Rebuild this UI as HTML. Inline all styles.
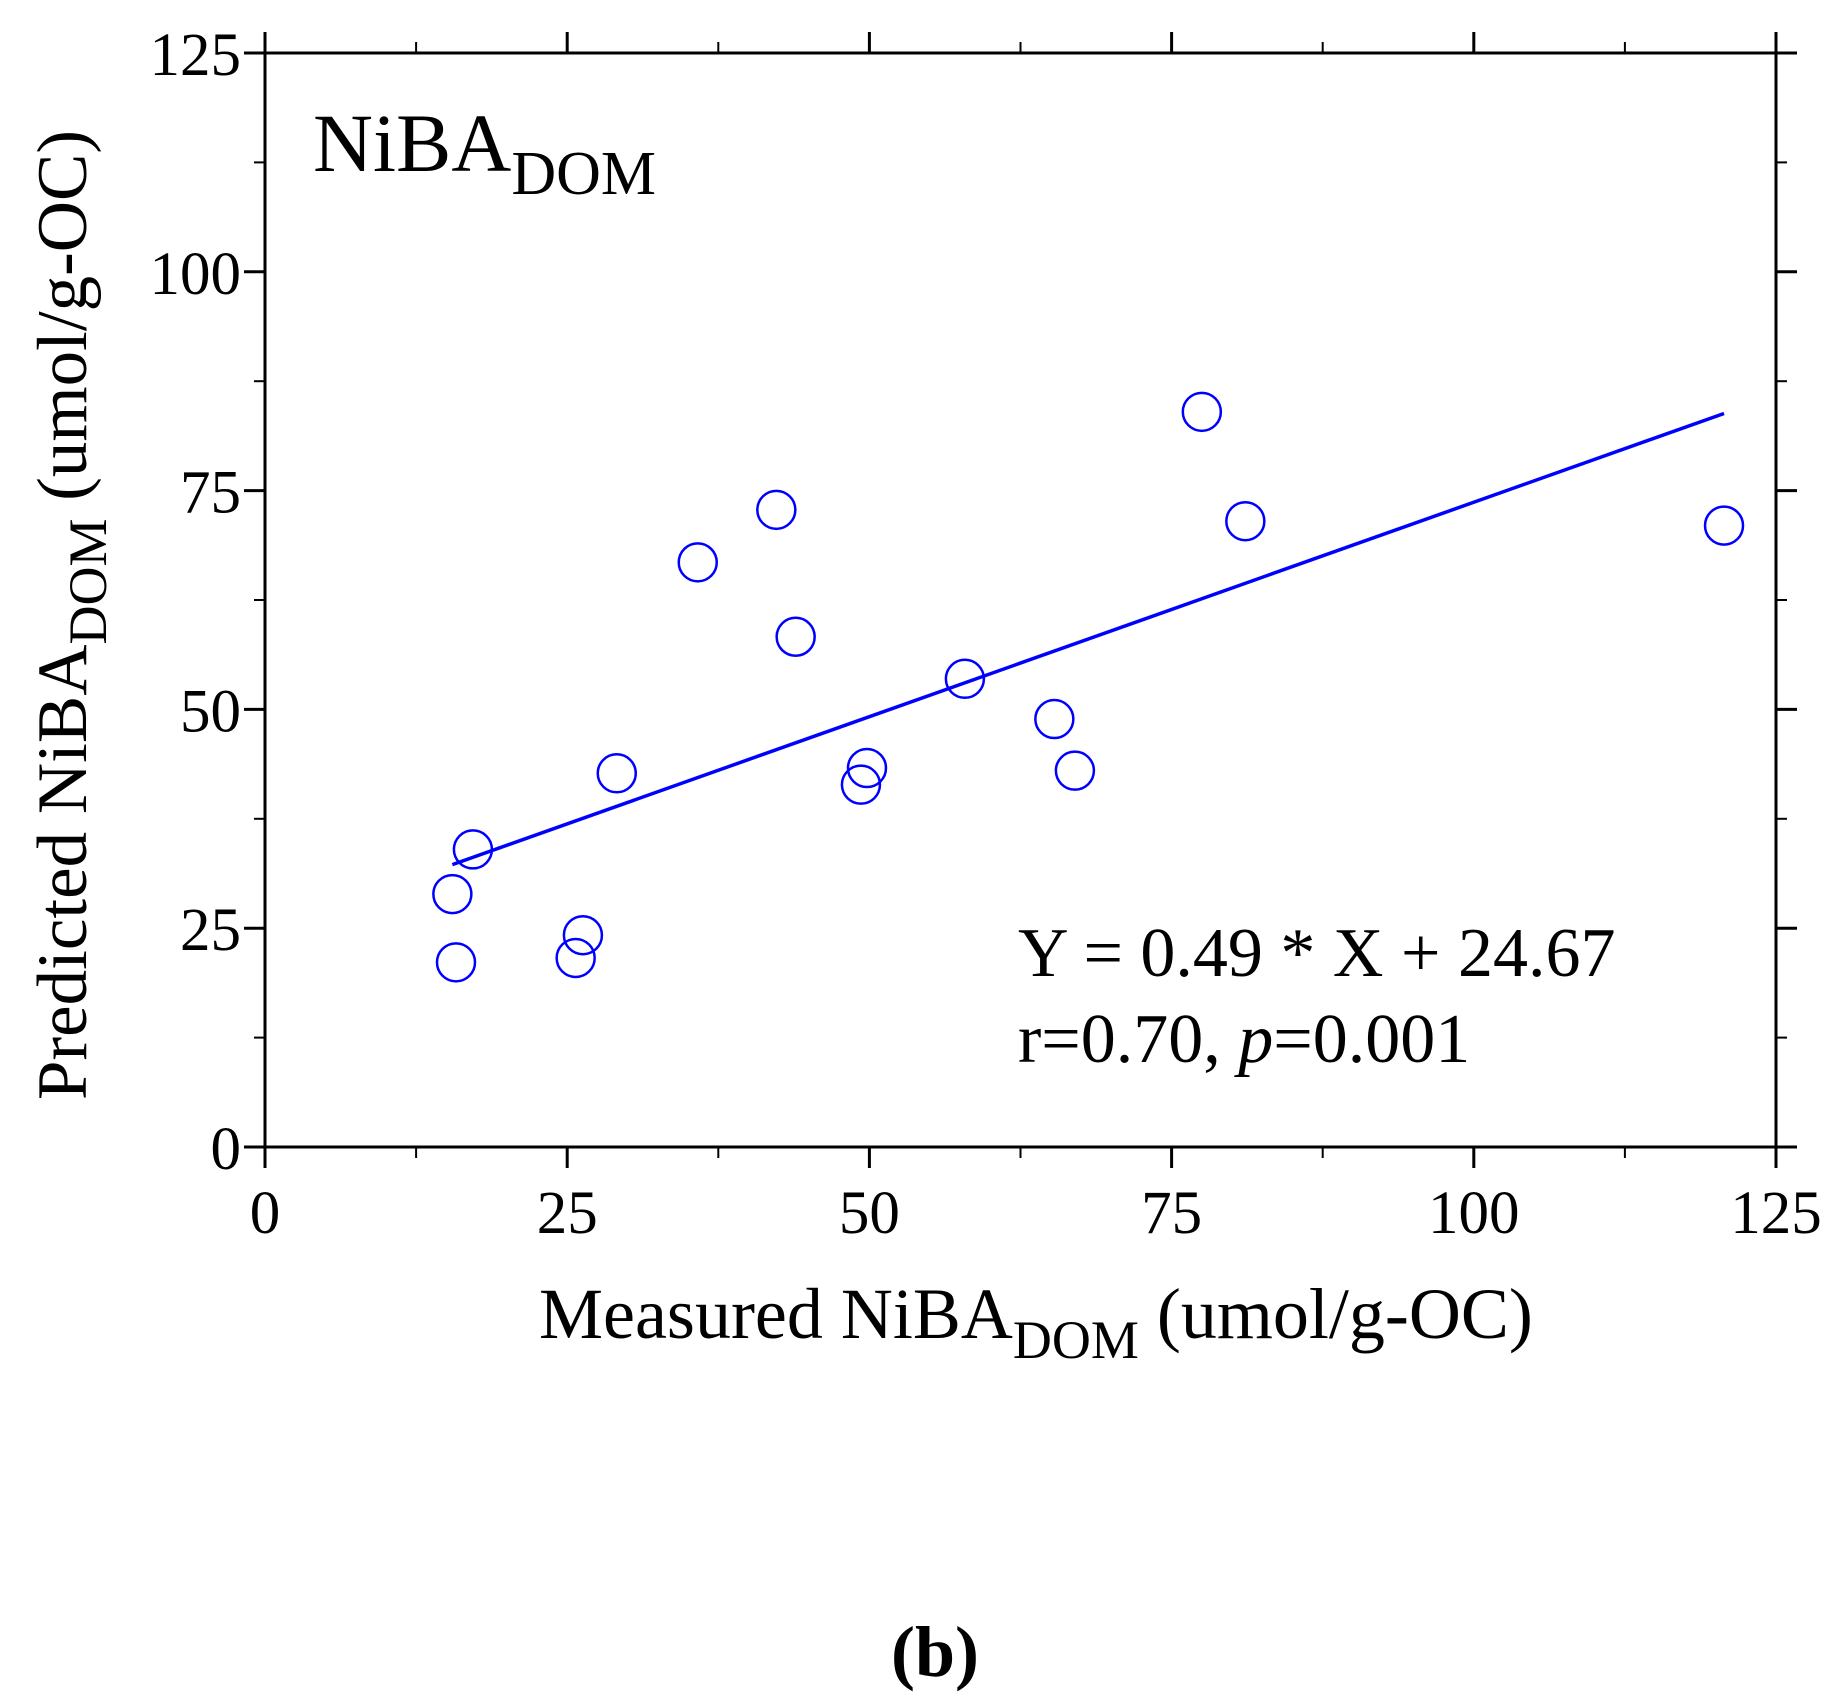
<!DOCTYPE html>
<html><head><meta charset="utf-8"><style>
html,body{margin:0;padding:0;background:#fff;}
svg{display:block;font-family:"Liberation Serif",serif;}
</style></head><body>
<svg id="chart" width="1844" height="1701" viewBox="0 0 1844 1701" xmlns="http://www.w3.org/2000/svg">
<rect width="1844" height="1701" fill="#fff"/>
<g id="ticks"></g>
<rect x="265" y="53" width="1511" height="1094" fill="none" stroke="#000" stroke-width="3"/>
<g id="labels" font-size="61" fill="#000"></g>
<g id="marks"></g>
<text x="313" y="171" font-size="83">NiBA<tspan font-size="62" dy="23">DOM</tspan></text>
<text x="1018" y="976" font-size="70">Y = 0.49 * X + 24.67</text>
<text x="1018" y="1062" font-size="70">r=0.70, <tspan font-style="italic">p</tspan>=0.001</text>
<text x="539" y="1338" font-size="72">Measured NiBA<tspan font-size="54" dy="20">DOM</tspan><tspan dy="-20"> (umol/g-OC)</tspan></text>
<text transform="translate(86,1100) rotate(-90)" x="0" y="0" font-size="71">Predicted NiBA<tspan font-size="54" dy="20">DOM</tspan><tspan dy="-20"> (umol/g-OC)</tspan></text>
<text x="935" y="1676" font-size="72" font-weight="bold" text-anchor="middle">(b)</text>
</svg>
<script>
const measured = [15.5, 15.8, 17.2, 25.7, 26.3, 29.1, 35.8, 42.3, 43.9, 49.3, 49.8, 57.9, 65.3, 67.0, 77.5, 81.1, 120.7];
const predicted = [28.9, 21.1, 34.0, 21.6, 24.2, 42.7, 66.8, 72.8, 58.3, 41.4, 43.3, 53.5, 48.9, 43.0, 84.0, 71.5, 71.0];
const majorTicks = [0, 25, 50, 75, 100, 125];
const minorTicks = [12.5, 37.5, 62.5, 87.5, 112.5];
const fitSlope = 0.49;
const fitIntercept = 24.67;
const fitRange = [15.5, 120.7];

const X0 = 265, X1 = 1776, Y0 = 1147, Y1 = 53;
const sx = v => X0 + (v / 125) * (X1 - X0);
const sy = v => Y0 - (v / 125) * (Y0 - Y1);
const NS = 'http://www.w3.org/2000/svg';
function mk(tag, attrs, parent) {
  const e = document.createElementNS(NS, tag);
  for (const k in attrs) e.setAttribute(k, attrs[k]);
  parent.appendChild(e);
  return e;
}
const ticks = document.getElementById('ticks');
const labels = document.getElementById('labels');
const marks = document.getElementById('marks');

majorTicks.forEach(t => {
  const x = sx(t), y = sy(t);
  let l;
  l = mk('line', {x1: x, y1: Y0, x2: x, y2: Y0 + 21, stroke: '#000', 'stroke-width': 3}, ticks);
  
  
  l = mk('line', {x1: x, y1: Y1, x2: x, y2: Y1 - 21, stroke: '#000', 'stroke-width': 3}, ticks);
  
  
  l = mk('line', {x1: X0, y1: y, x2: X0 - 21, y2: y, stroke: '#000', 'stroke-width': 3}, ticks);
  
  
  l = mk('line', {x1: X1, y1: y, x2: X1 + 21, y2: y, stroke: '#000', 'stroke-width': 3}, ticks);
  
  
  let tx = mk('text', {x: x, y: 1233, 'text-anchor': 'middle'}, labels);
  tx.textContent = t;
  
  
  let ty = mk('text', {x: 241, y: y + 22, 'text-anchor': 'end'}, labels);
  ty.textContent = t;
  
  
});
minorTicks.forEach(t => {
  const x = sx(t), y = sy(t);
  let l;
  l = mk('line', {x1: x, y1: Y0, x2: x, y2: Y0 + 11, stroke: '#000', 'stroke-width': 2}, ticks);
  
  
  l = mk('line', {x1: x, y1: Y1, x2: x, y2: Y1 - 11, stroke: '#000', 'stroke-width': 2}, ticks);
  
  
  l = mk('line', {x1: X0, y1: y, x2: X0 - 11, y2: y, stroke: '#000', 'stroke-width': 2}, ticks);
  
  
  l = mk('line', {x1: X1, y1: y, x2: X1 + 11, y2: y, stroke: '#000', 'stroke-width': 2}, ticks);
  
  
});

const fit = mk('line', {
  x1: sx(fitRange[0]), y1: sy(fitSlope * fitRange[0] + fitIntercept),
  x2: sx(fitRange[1]), y2: sy(fitSlope * fitRange[1] + fitIntercept),
  stroke: '#0000ff', 'stroke-width': 3.5
}, marks);



measured.forEach((m, i) => {
  const c = mk('circle', {cx: sx(m), cy: sy(predicted[i]), r: 19, fill: 'none', stroke: '#0000ff', 'stroke-width': 2.5}, marks);
  
  
});
</script>
</body></html>
